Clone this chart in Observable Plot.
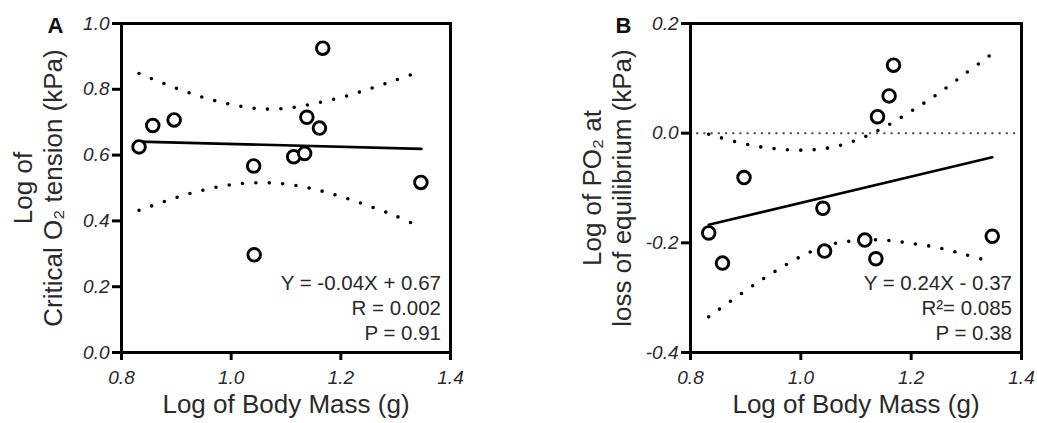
<!DOCTYPE html>
<html>
<head>
<meta charset="utf-8">
<script src="https://cdn.jsdelivr.net/npm/d3@7"></script>
<script src="https://cdn.jsdelivr.net/npm/@observablehq/plot@0.6"></script>
<style>
  html, body { margin: 0; padding: 0; background: #fff; }
  #wrap { position: relative; width: 1037px; height: 423px; overflow: hidden; }
  #wrap > div, #wrap > svg { position: absolute; top: 0; }
</style>
</head>
<body>
<div id="wrap"></div>
<script>
// ---------- data ----------
const xTicks = [0.8, 1.0, 1.2, 1.4];
const xTickLabels = ["0.8", "1.0", "1.2", "1.4"];
const xTitle = "Log of Body Mass (g)";

// Panel A
const yTicksA = [0, 0.2, 0.4, 0.6, 0.8, 1.0];
const yTickLabelsA = ["0.0", "0.2", "0.4", "0.6", "0.8", "1.0"];
const massA = [0.832, 0.857, 0.896, 1.041, 1.042, 1.114, 1.134, 1.138, 1.161, 1.167, 1.346];
const pcritA = [0.625, 0.690, 0.707, 0.567, 0.297, 0.595, 0.605, 0.715, 0.682, 0.925, 0.517];
const fitXA = [0.832, 1.347];
const fitYA = [0.641, 0.619];
const bandXA = [0.832, 0.9, 0.95, 1.0, 1.05, 1.1, 1.15, 1.2, 1.25, 1.3, 1.347];
const bandUpA = [0.848, 0.803, 0.775, 0.754, 0.741, 0.742, 0.756, 0.775, 0.800, 0.828, 0.855];
const bandLoA = [0.432, 0.471, 0.494, 0.510, 0.516, 0.512, 0.497, 0.474, 0.446, 0.415, 0.380];
const annotA = ["Y = -0.04X + 0.67", "R = 0.002", "P = 0.91"];
const titleA = ["Log of", "Critical O\u2082 tension (kPa)"];

// Panel B
const yTicksB = [-0.4, -0.2, 0.0, 0.2];
const yTickLabelsB = ["-0.4", "-0.2", "0.0", "0.2"];
const massB = [0.833, 0.858, 0.897, 1.040, 1.043, 1.116, 1.136, 1.139, 1.160, 1.168, 1.347];
const lossB = [-0.182, -0.237, -0.081, -0.137, -0.215, -0.195, -0.229, 0.030, 0.068, 0.124, -0.188];
const fitXB = [0.833, 1.347];
const fitYB = [-0.167, -0.044];
const bandXB = [0.833, 0.9, 0.95, 1.0, 1.05, 1.1, 1.15, 1.2, 1.25, 1.3, 1.347];
const bandUpB = [-0.002, -0.020, -0.028, -0.031, -0.027, -0.013, 0.010, 0.040, 0.073, 0.110, 0.145];
const bandLoB = [-0.335, -0.287, -0.254, -0.225, -0.204, -0.196, -0.195, -0.201, -0.209, -0.222, -0.235];
const refLineB = [0];
const annotB = ["Y = 0.24X - 0.37", "R\u00B2= 0.085", "P = 0.38"];
const titleB = ["Log of PO\u2082 at", "loss of equilibrium (kPa)"];

// ---------- drawing ----------
const FONT = "'Liberation Sans', Arial, Helvetica, sans-serif";
const INK = "#2a2a2a";

function panel({letter, width, marginLeft, marginRight, yDomain, yTicks, yLabels,
                xs, ys, fitX, fitY, bandX, bandUp, bandLo, annot, title, refLine}) {
  const pts = xs.map((x, i) => ({x, y: ys[i]}));
  const fit = fitX.map((x, i) => ({x, y: fitY[i]}));
  const up = bandX.map((x, i) => ({x, y: bandUp[i]}));
  const lo = bandX.map((x, i) => ({x, y: bandLo[i]}));
  const dotted = {stroke: "#000", strokeWidth: 3.6, strokeDasharray: "0 13.4",
                  strokeLinecap: "round", curve: "catmull-rom"};
  const marks = [
    Plot.line(up, {x: "x", y: "y", ...dotted}),
    Plot.line(lo, {x: "x", y: "y", ...dotted}),
  ];
  if (refLine) marks.push(Plot.ruleY(refLine, {stroke: "#555", strokeWidth: 2.4,
                 strokeDasharray: "0 7.2", strokeLinecap: "round"}));
  marks.push(
    Plot.line(fit, {x: "x", y: "y", stroke: "#000", strokeWidth: 2.6}),
    Plot.dot(pts, {x: "x", y: "y", r: 6.3, fill: "#fff", stroke: "#000", strokeWidth: 2.9}),
    Plot.frame({stroke: "#000", strokeWidth: 3}),
    Plot.axisX(xTicks, {tickSize: 8, tickPadding: 10, strokeWidth: 3, label: null,
      tickFormat: d => xTickLabels[xTicks.indexOf(d)], fontSize: 19, fontStyle: "italic", fill: INK}),
    Plot.axisY(yTicks, {tickSize: 9, tickPadding: 3, strokeWidth: 3, label: null,
      tickFormat: d => yLabels[yTicks.indexOf(d)], fontSize: 19, fontStyle: "italic", fill: INK}),
    Plot.text([xTitle], {frameAnchor: "bottom", lineAnchor: "middle", textAnchor: "middle",
      dy: 52.4, fontSize: 26, fill: INK}),
    Plot.text([title[0]], {frameAnchor: "left", lineAnchor: "middle", textAnchor: "middle",
      rotate: -90, dx: -97.5, fontSize: 26, fill: INK}),
    Plot.text([title[1]], {frameAnchor: "left", lineAnchor: "middle", textAnchor: "middle",
      rotate: -90, dx: -67.5, fontSize: 26, fill: INK}),
    Plot.text([letter], {frameAnchor: "top-left", lineAnchor: "middle", textAnchor: "start",
      dx: letter === "A" ? -74 : -75, dy: 2, fontSize: 22, fontWeight: "bold", fill: "#111"}),
    ...annot.map((t, i) => Plot.text([t], {frameAnchor: "bottom-right", lineAnchor: "middle",
      textAnchor: "end", dx: -9.5, dy: -68.6 + i * 24.7, fontSize: 20.5, fill: INK}))
  );
  const svg = Plot.plot({
    width, height: 423,
    marginTop: 23, marginBottom: 71, marginLeft, marginRight,
    x: {domain: [0.8, 1.4]},
    y: {domain: yDomain},
    style: {fontFamily: FONT, fontSize: "19px", background: "transparent", overflow: "visible"},
    marks
  });
  // make sure the tick labels get the reference's size and italic style
  d3.select(svg).selectAll('g[aria-label$="tick label"], g[aria-label$="tick label"] text')
    .style("font-size", "19px").style("font-style", "italic");
  return svg;
}

const wrap = document.getElementById("wrap");
const a = panel({letter: "A", width: 500, marginLeft: 121, marginRight: 50,
  yDomain: [0, 1.0], yTicks: yTicksA, yLabels: yTickLabelsA,
  xs: massA, ys: pcritA, fitX: fitXA, fitY: fitYA,
  bandX: bandXA, bandUp: bandUpA, bandLo: bandLoA, annot: annotA, title: titleA});
a.style.left = "0px";
wrap.appendChild(a);

const b = panel({letter: "B", width: 517, marginLeft: 170, marginRight: 16,
  yDomain: [-0.4, 0.2], yTicks: yTicksB, yLabels: yTickLabelsB,
  xs: massB, ys: lossB, fitX: fitXB, fitY: fitYB,
  bandX: bandXB, bandUp: bandUpB, bandLo: bandLoB, annot: annotB, title: titleB, refLine: refLineB});
b.style.left = "520px";
wrap.appendChild(b);
</script>
</body>
</html>
